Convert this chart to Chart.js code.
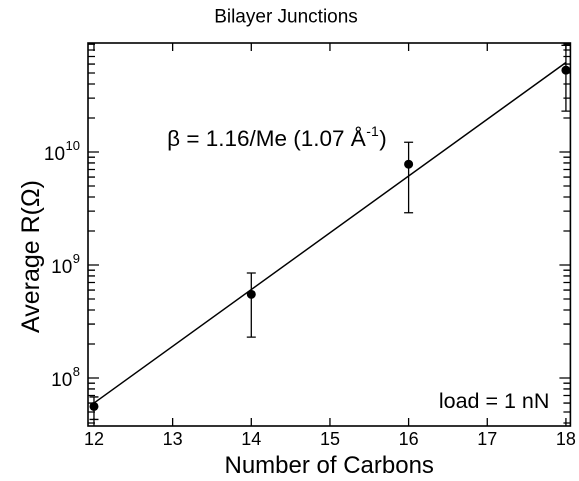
<!DOCTYPE html>
<html>
<head>
<meta charset="utf-8">
<title>Bilayer Junctions</title>
<script src="https://cdn.jsdelivr.net/npm/chart.js@4.4.1/dist/chart.umd.min.js"></script>
<style>
  html, body { margin: 0; padding: 0; background: #fff; overflow: hidden; }
  #frame { width: 579px; height: 481px; }
</style>
</head>
<body>
<div id="frame"><canvas id="chart"></canvas></div>
<script>
// number of carbons in the alkane chain
const carbons = [12, 14, 16, 18];
// average junction resistance (ohm) and error-bar limits
const avgR = [5.6e7, 5.5e8, 7.8e9, 5.3e10];
const errLow = [4.3e7, 2.3e8, 2.9e9, 2.3e10];
const errHigh = [6.8e7, 8.5e8, 1.22e10, 8.8e10];
// exponential fit, end points
const fitCarbons = [12, 18];
const fitR = [6.0e7, 6.2e10];
// axis ticks
const xTickValues = [12, 13, 14, 15, 16, 17, 18];
const yTickExponents = [8, 9, 10];
const minorMultipliers = [2, 3, 4, 5, 6, 7, 8, 9];
// texts
const chartTitle = 'Bilayer Junctions';
const xTitle = 'Number of Carbons';
const yTitle = 'Average R(\u03A9)';
const betaLabel = ['\u03B2 = 1.16/Me (1.07 \u00C5', '-1', ')'];
const loadLabel = 'load = 1 nN';

const FONT = '"Liberation Sans", Arial, Helvetica, sans-serif';
Chart.defaults.font.family = FONT;
Chart.defaults.color = '#000';

// frame, inward ticks, error bars, power-of-ten labels and notes
const axesDecor = {
  id: 'axesDecor',
  beforeDatasetsDraw(chart) {
    const { ctx, scales: { x, y }, chartArea: a } = chart;
    ctx.save();
    ctx.beginPath();
    ctx.rect(a.left, a.top, a.right - a.left, a.bottom - a.top);
    ctx.clip();
    ctx.strokeStyle = '#000';
    ctx.lineWidth = 1.3;
    carbons.forEach((c, i) => {
      const px = x.getPixelForValue(c);
      const yHi = y.getPixelForValue(errHigh[i]);
      const yLo = y.getPixelForValue(errLow[i]);
      ctx.beginPath();
      ctx.moveTo(px, yHi); ctx.lineTo(px, yLo);
      ctx.moveTo(px - 4.5, yHi); ctx.lineTo(px + 4.5, yHi);
      ctx.moveTo(px - 4.5, yLo); ctx.lineTo(px + 4.5, yLo);
      ctx.stroke();
    });
    ctx.restore();
  },
  afterDraw(chart) {
    const { ctx, scales: { x, y }, chartArea: a } = chart;
    ctx.save();
    ctx.strokeStyle = '#000';
    ctx.lineWidth = 1.6;
    ctx.strokeRect(a.left, a.top, a.right - a.left, a.bottom - a.top);

    ctx.lineWidth = 1.3;
    ctx.beginPath();
    xTickValues.forEach(v => {
      const px = x.getPixelForValue(v);
      ctx.moveTo(px, a.bottom); ctx.lineTo(px, a.bottom - 8);
      ctx.moveTo(px, a.top); ctx.lineTo(px, a.top + 8);
    });
    const eLo = Math.floor(Math.log10(y.min));
    const eHi = Math.ceil(Math.log10(y.max));
    for (let e = eLo; e <= eHi; e++) {
      [1, ...minorMultipliers].forEach(k => {
        const v = k * Math.pow(10, e);
        if (v < y.min || v > y.max) return;
        const py = y.getPixelForValue(v);
        const len = k === 1 ? 11 : 7;
        ctx.moveTo(a.left, py); ctx.lineTo(a.left + len, py);
        ctx.moveTo(a.right, py); ctx.lineTo(a.right - len, py);
      });
    }
    ctx.stroke();

    // 10^n labels on the y axis
    ctx.fillStyle = '#000';
    ctx.textBaseline = 'alphabetic';
    const labelRight = a.left - 8;
    yTickExponents.forEach(e => {
      const py = y.getPixelForValue(Math.pow(10, e));
      const sup = String(e);
      ctx.font = '13px ' + FONT;
      const supW = ctx.measureText(sup).width;
      ctx.font = '19px ' + FONT;
      ctx.textAlign = 'right';
      ctx.fillText('10', labelRight - supW - 0.5, py + 8);
      ctx.font = '13px ' + FONT;
      ctx.textAlign = 'left';
      ctx.fillText(sup, labelRight - supW, py - 2);
    });

    // decay constant note
    ctx.textAlign = 'left';
    let tx = x.getPixelForValue(12.93);
    const ty = y.getPixelForValue(1.0e10) - 6;
    ctx.font = '22.5px ' + FONT;
    ctx.fillText(betaLabel[0], tx, ty);
    tx += ctx.measureText(betaLabel[0]).width + 0.5;
    ctx.font = '14px ' + FONT;
    ctx.fillText(betaLabel[1], tx, ty - 10);
    tx += ctx.measureText(betaLabel[1]).width + 0.5;
    ctx.font = '22.5px ' + FONT;
    ctx.fillText(betaLabel[2], tx, ty);

    // applied load note
    ctx.font = '21.5px ' + FONT;
    ctx.textAlign = 'right';
    ctx.fillText(loadLabel, a.right - 21, a.bottom - 18);

    // y-axis title
    ctx.font = '25px ' + FONT;
    ctx.textAlign = 'center';
    ctx.textBaseline = 'middle';
    ctx.translate(32, (a.top + a.bottom) / 2 + 22);
    ctx.rotate(-Math.PI / 2);
    ctx.fillText(yTitle, 0, 0);
    ctx.restore();
  }
};

new Chart(document.getElementById('chart'), {
  type: 'scatter',
  data: {
    datasets: [
      {
        label: 'Average R',
        data: carbons.map((c, i) => ({ x: c, y: avgR[i] })),
        pointRadius: 4.5,
        pointHoverRadius: 4.5,
        pointBackgroundColor: '#000',
        pointBorderColor: '#000',
        pointBorderWidth: 0,
        order: 1
      },
      {
        type: 'line',
        label: 'fit',
        data: fitCarbons.map((c, i) => ({ x: c, y: fitR[i] })),
        borderColor: '#000',
        borderWidth: 1.5,
        pointRadius: 0,
        fill: false,
        tension: 0,
        order: 2
      }
    ]
  },
  options: {
    responsive: true,
    maintainAspectRatio: false,
    devicePixelRatio: 2,
    animation: false,
    events: [],
    layout: { padding: { left: 0, right: 7, top: 0, bottom: 0 } },
    plugins: {
      legend: { display: false },
      tooltip: { enabled: false },
      title: {
        display: true,
        text: chartTitle,
        color: '#000',
        font: { size: 19, weight: 'normal' },
        padding: { top: 6, bottom: 14.2 }
      }
    },
    scales: {
      x: {
        type: 'linear',
        min: 11.924,
        max: 18.057,
        afterBuildTicks: s => { s.ticks = xTickValues.map(v => ({ value: v })); },
        afterFit: s => { s.height = 55; },
        ticks: { font: { size: 18 }, color: '#000', padding: 3, autoSkip: false, maxRotation: 0 },
        grid: { display: false, drawTicks: false },
        border: { display: false },
        title: { display: true, text: xTitle, color: '#000', font: { size: 24 }, padding: { top: 0, bottom: 0 } }
      },
      y: {
        type: 'logarithmic',
        min: 3.76e7,
        max: 9.22e10,
        afterFit: s => { s.width = 88; },
        ticks: { display: false },
        grid: { display: false, drawTicks: false },
        border: { display: false },
        title: { display: false, text: yTitle }
      }
    }
  },
  plugins: [axesDecor]
});
</script>
</body>
</html>
